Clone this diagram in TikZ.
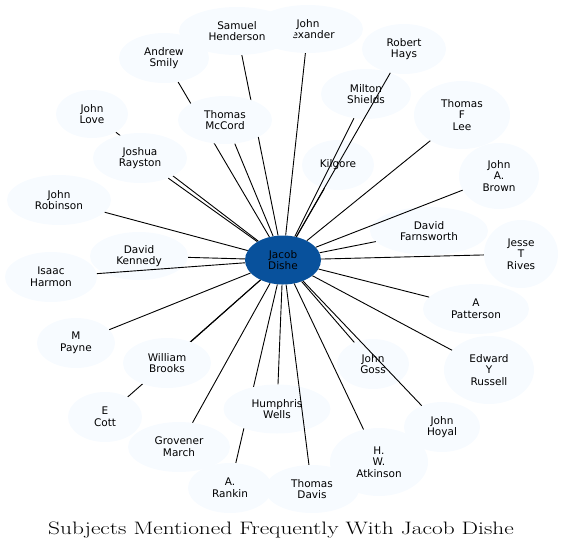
\documentclass[tikz,border=0pt]{standalone}
\usepackage{fontspec}
\newfontfamily\labelfont{DejaVu Sans}
\usepackage{tikz}
\usetikzlibrary{shapes.geometric, backgrounds}

\definecolor{hubblue}{RGB}{8,81,156}
\definecolor{leafblue}{RGB}{247,251,255}

\begin{document}
\begin{tikzpicture}[x=1pt, y=-1pt,
    subj/.style 2 args={ellipse, fill=leafblue, inner sep=0pt, minimum width=#1, minimum height=#2,
        align=center, font=\labelfont\fontsize{10.5}{11.7}\selectfont},
    link/.style={black, line width=0.9pt}]
    \useasboundingbox (0,0) rectangle (562,550);

    % Center node
    \node[subj={76pt}{49pt}, fill=hubblue] (jacob) at (283,260) {Jacob\\Dishe};

    % Upper half
    \node[subj={110pt}{48pt}] (alexander) at (308,29) {John\\Alexander};
    \node[subj={116pt}{48pt}] (samuel) at (237,31) {Samuel\\Henderson};
    \node[subj={90pt}{50pt}] (andrew) at (164,58) {Andrew\\Smily};
    \node[subj={72pt}{48pt}] (johnlove) at (92,114) {John\\Love};
    \node[subj={94pt}{48pt}] (mccord) at (225,120) {Thomas\\McCord};
    \node[subj={94pt}{50pt}] (rayston) at (140,158) {Joshua\\Rayston};
    \node[subj={104pt}{50pt}] (robinson) at (59,200) {John\\Robinson};
    \node[subj={98pt}{48pt}] (kennedy) at (139,256) {David\\Kennedy};
    \node[subj={84pt}{50pt}] (hays) at (404,49) {Robert\\Hays};
    \node[subj={90pt}{50pt}] (shields) at (366,94) {Milton\\Shields};
    \node[subj={96pt}{68pt}] (lee) at (462,115) {Thomas\\F\\Lee};
    \node[subj={72pt}{50pt}] (kilgore) at (338,165) {Kilgore};
    \node[subj={80pt}{66pt}] (brown) at (499,176) {John\\A.\\Brown};
    \node[subj={118pt}{48pt}] (farnsworth) at (429,231) {David\\Farnsworth};
    \node[subj={74pt}{68pt}] (rives) at (521,254) {Jesse\\T\\Rives};

    % Lower half
    \node[subj={92pt}{50pt}] (harmon) at (51,277) {Isaac\\Harmon};
    \node[subj={78pt}{50pt}] (payne) at (76,343) {M\\Payne};
    \node[subj={88pt}{50pt}] (brooks) at (167,363) {William\\Brooks};
    \node[subj={74pt}{50pt}] (cott) at (105,417) {E\\Cott};
    \node[subj={102pt}{50pt}] (march) at (179,447) {Grovener\\March};
    \node[subj={107pt}{49pt}] (wells) at (277,409) {Humphris\\Wells};
    \node[subj={84pt}{50pt}] (rankin) at (230,488) {A.\\Rankin};
    \node[subj={94pt}{48pt}] (davis) at (312,489) {Thomas\\Davis};
    \node[subj={98pt}{68pt}] (atkinson) at (379,462) {H.\\W.\\Atkinson};
    \node[subj={76pt}{50pt}] (hoyal) at (442,427) {John\\Hoyal};
    \node[subj={72pt}{50pt}] (goss) at (373,364) {John\\Goss};
    \node[subj={90pt}{68pt}] (russell) at (489,370) {Edward\\Y\\Russell};
    \node[subj={106pt}{50pt}] (patterson) at (476,309) {A\\Patterson};

    % Links hidden behind other nodes
    \begin{scope}[on background layer]
        \foreach \n in {johnlove, andrew, samuel, cott, rankin}
            \draw[link] (jacob) -- (\n);
    \end{scope}

    % Links drawn over the nodes
    \foreach \n in {alexander, mccord, rayston, robinson, kennedy, hays, shields, lee, kilgore,
        brown, farnsworth, rives, harmon, payne, brooks, march, wells, davis, atkinson, hoyal,
        goss, russell, patterson}
        \draw[link] (jacob) -- (\n);

    % Title
    \node[anchor=base, font=\fontsize{18}{21}\selectfont] (title) at (281,534)
        {\scalebox{1.295}[1]{Subjects Mentioned Frequently With Jacob Dishe}};
\end{tikzpicture}
\end{document}
